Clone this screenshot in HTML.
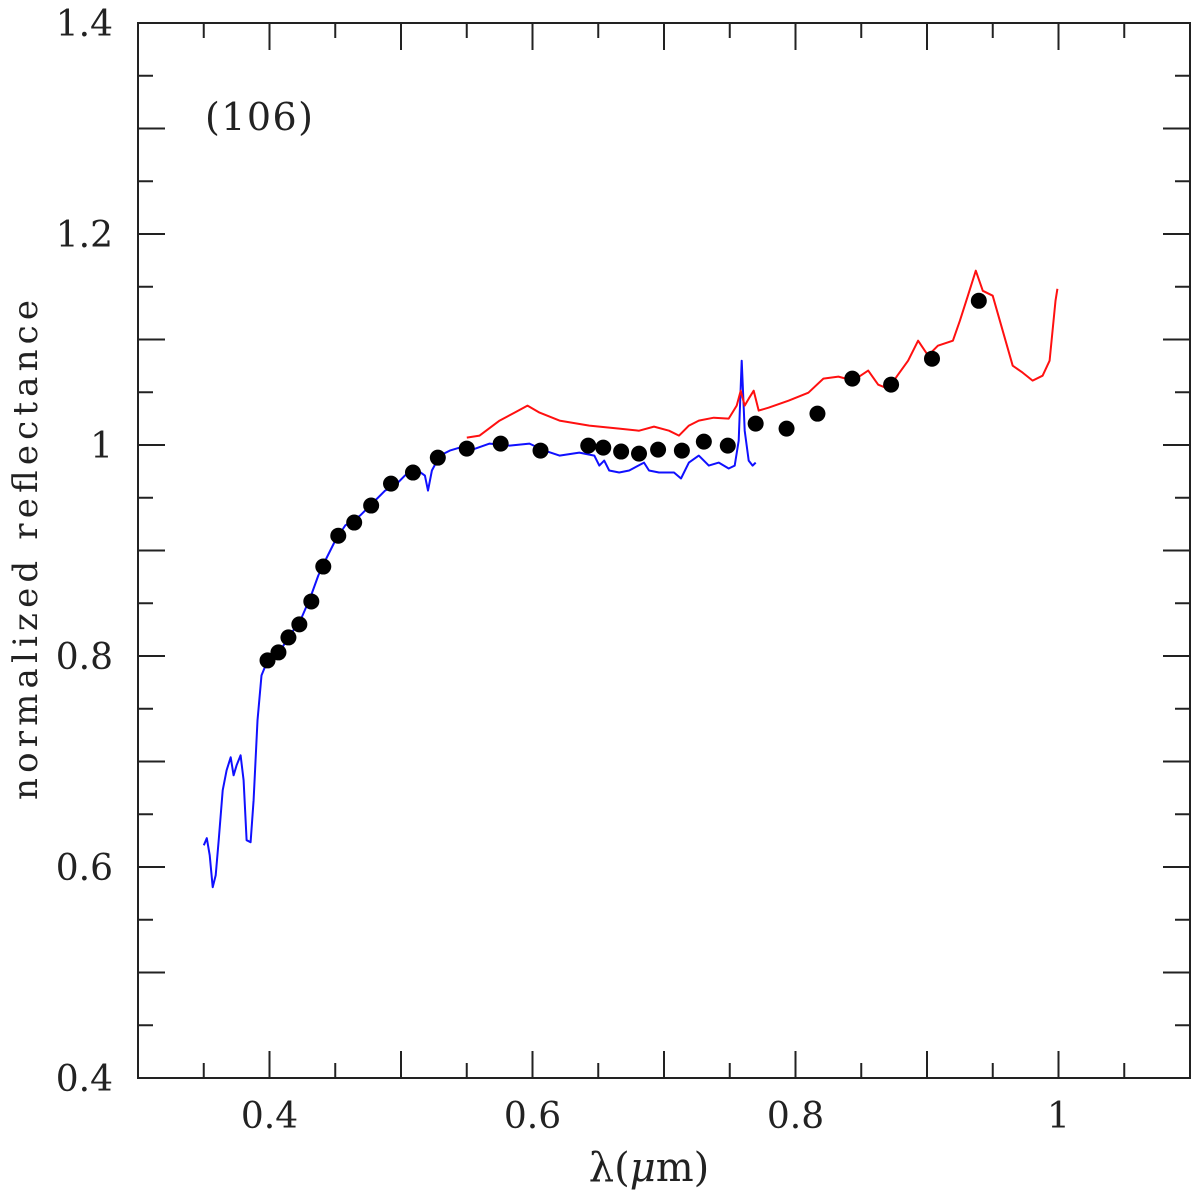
<!DOCTYPE html>
<html><head><meta charset="utf-8"><style>
body{margin:0;background:#fff}
svg text{font-family:"DejaVu Serif","Liberation Serif",serif;fill:#222}
</style></head><body>
<svg id="chart" width="1200" height="1194" xmlns="http://www.w3.org/2000/svg"></svg>
<script>
const blueX=[.350,.3523,.3545,.3568,.3591,.3614,.3644,.3674,.3705,.3727,.375,.378,.3803,.3826,.3856,.3879,.3909,.3939,.397,.4008,.4083,.4159,.4235,.4311,.4371,.4424,.45,.4576,.4689,.4803,.4879,.4955,.503,.5106,.5182,.5205,.5235,.5295,.5371,.5447,.5523,.5674,.5826,.5977,.6091,.6205,.6356,.647,.6508,.6545,.6583,.6659,.6735,.6848,.6886,.6962,.7076,.7129,.7189,.7265,.7341,.7417,.7492,.7538,.7568,.7591,.7614,.7644,.7674,.7697];
const blueY=[.6206,.6273,.6112,.5809,.5922,.6254,.6727,.6917,.704,.6869,.6964,.7059,.6822,.6254,.6235,.6633,.739,.7816,.7911,.7977,.8053,.8205,.8337,.8555,.8763,.8905,.9095,.9237,.9331,.9473,.9568,.9616,.971,.9777,.971,.9568,.9758,.99,.9947,.9975,.9947,1.0013,.9994,1.0013,.9947,.99,.9928,.99,.9805,.9852,.9758,.9739,.9758,.9833,.9758,.9739,.9739,.9682,.9833,.99,.9805,.9833,.9777,.9805,1.0042,1.0799,1.0136,.9852,.9805,.9833];
const redX=[.55,.5598,.575,.5864,.5962,.6053,.6205,.6432,.6659,.6811,.6924,.7038,.7114,.7189,.7265,.7379,.7492,.7553,.7583,.7614,.7644,.7682,.772,.7795,.7947,.8098,.8212,.8326,.8439,.8553,.8629,.8705,.878,.8856,.8932,.9008,.9083,.9197,.925,.9311,.9371,.9424,.95,.9576,.9652,.9727,.9803,.9879,.9932,.9977,.9992];
const redY=[1.007,1.0089,1.0231,1.0307,1.0373,1.0307,1.0231,1.0184,1.0155,1.0136,1.0174,1.0136,1.0089,1.0184,1.0231,1.0259,1.025,1.0373,1.0515,1.0373,1.0439,1.0515,1.0326,1.0354,1.042,1.0496,1.0629,1.0648,1.061,1.0705,1.0572,1.0534,1.0667,1.0799,1.0989,1.0847,1.0941,1.0989,1.1178,1.1415,1.1652,1.1462,1.1415,1.1083,1.0752,1.0686,1.061,1.0657,1.0799,1.1367,1.1481];
const dotX=[.3985,.4068,.4144,.4227,.4318,.4409,.4523,.4644,.4773,.4924,.5091,.528,.55,.5758,.6061,.6424,.6538,.6674,.681,.6955,.7136,.7303,.7485,.7697,.7932,.8167,.8432,.8727,.9038,.9394];
const dotY=[.7958,.8034,.8176,.830,.8517,.8848,.914,.9265,.9426,.9634,.9739,.988,.9966,1.0013,.9947,.9994,.9975,.9938,.9918,.9956,.9947,1.0032,.9994,1.0203,1.0155,1.0297,1.0629,1.0572,1.0818,1.1367];
const xTickLabels=["0.4","0.6","0.8","1"];
const xTickVals=[0.4,0.6,0.8,1.0];
const yTickLabels=["0.4","0.6","0.8","1","1.2","1.4"];
const yTickVals=[0.4,0.6,0.8,1.0,1.2,1.4];

const L=138,R=1190,T=23,B=1078;
const sx=v=>L+(v-0.3)*(R-L)/0.8;
const sy=v=>B-(v-0.4)*(B-T)/1.0;
const svg=document.getElementById('chart');
const NS='http://www.w3.org/2000/svg';
function mk(tag,attrs,parent){const e=document.createElementNS(NS,tag);for(const k in attrs)e.setAttribute(k,attrs[k]);(parent||svg).appendChild(e);return e;}

const frame=mk('rect',{x:L,y:T,width:R-L,height:B-T,fill:'none',stroke:'#222','stroke-width':2});



const ticks=mk('g',{stroke:'#222','stroke-width':2});


for(let i=0;i<=16;i++){const v=0.3+i*0.05;const x=sx(v);const len=(Math.round(v*100)%10===0)?27:15;
 mk('line',{x1:x,x2:x,y1:B,y2:B-len},ticks);mk('line',{x1:x,x2:x,y1:T,y2:T+len},ticks);}
for(let i=0;i<=20;i++){const v=0.4+i*0.05;const y=sy(v);const len=(Math.round(v*100)%10===0)?27:15;
 mk('line',{x1:L,x2:L+len,y1:y,y2:y},ticks);mk('line',{x1:R,x2:R-len,y1:y,y2:y},ticks);}

xTickLabels.forEach((t,i)=>{const e=mk('text',{x:sx(xTickVals[i]),y:1128,'font-size':36,'text-anchor':'middle'});e.textContent=t;
 
 });
yTickLabels.forEach((t,i)=>{const e=mk('text',{x:113,y:sy(yTickVals[i])+13,'font-size':36,'text-anchor':'end'});e.textContent=t;
 
 });

function line(xs,ys,color,name){const d=xs.map((x,i)=>(i?'L':'M')+sx(x).toFixed(1)+','+sy(ys[i]).toFixed(1)).join('');
 const p=mk('path',{d:d,fill:'none',stroke:color,'stroke-width':2,'stroke-linejoin':'round'});
 
 }
line(blueX,blueY,'#1010ff','blue-spectrum');
line(redX,redY,'#ff1010','red-spectrum');
const dots=mk('g',{fill:'#000'});


dotX.forEach((x,i)=>{const c=mk('circle',{cx:sx(x),cy:sy(dotY[i]),r:8},dots);
 
 });

const t1=mk('text',{x:205,y:130,'font-size':38,'textLength':108});t1.textContent='(106)';


const xl=mk('text',{x:649,y:1181,'font-size':40,'text-anchor':'middle'});
xl.innerHTML='λ(<tspan font-style="italic">μ</tspan>m)';


const yl=mk('text',{x:0,y:0,'font-size':34,'text-anchor':'middle',transform:'translate(37,550) rotate(-90)','textLength':500});yl.textContent='normalized reflectance';


</script>
</body></html>
